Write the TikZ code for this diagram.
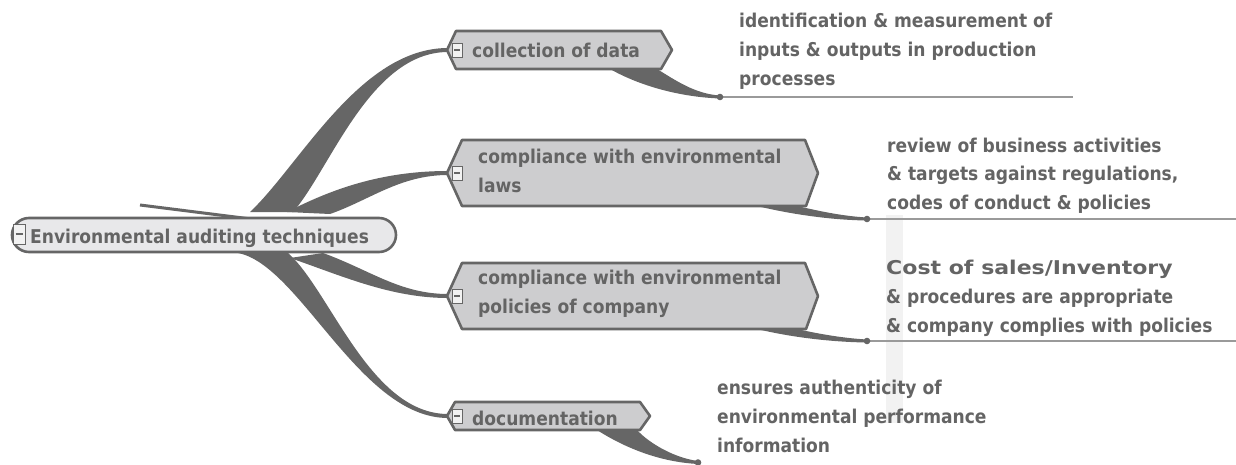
\documentclass[tikz,border=0pt]{standalone}
\usepackage{fontspec}
\newfontfamily\cond{DejaVu Sans Condensed}
\newfontfamily\wide{DejaVu Sans}
\definecolor{dk}{HTML}{666666}
\definecolor{txtc}{HTML}{646464}
\definecolor{hexfill}{HTML}{CDCDCF}
\definecolor{capfill}{HTML}{E8E8EA}
\definecolor{band}{HTML}{F2F2F2}
\definecolor{leaf}{HTML}{9A9A9A}
\begin{document}
\begin{tikzpicture}[x=1pt,y=-1pt,
  txt/.style={font=\cond\bfseries\fontsize{19}{29}\selectfont, text=txtc, inner sep=0pt, anchor=base west, align=left},
  hexbox/.style={draw=dk, fill=hexfill, line width=2.6pt, line join=round},
  capbox/.style={draw=dk, fill=capfill, line width=2.6pt, rounded corners=17pt},
  minusbox/.style={draw=dk, fill=white!95!black, line width=0.9pt},
  twig/.style={fill=dk},
  leafline/.style={draw=leaf, line width=1.4pt},
  dot/.style={fill=dk}]
\useasboundingbox (0,0) rectangle (1236,465);
% faint vertical band
\fill[band] (886,215) rectangle (903,423);

% main tapered branches
\fill[twig] (250,212) .. controls (300,165) and (360,48) .. (448,48) -- (448,52) .. controls (370,52) and (330,170) .. (293,212) -- cycle;
\fill[twig] (287,212) .. controls (330,190) and (380,171) .. (448,171) -- (448,175) .. controls (400,175) and (370,200) .. (330,214) -- cycle;
\fill[twig] (323,253) .. controls (370,270) and (400,294) .. (448,294) -- (448,298) .. controls (390,298) and (340,275) .. (290,258) -- cycle;
\fill[twig] (288,253) .. controls (330,290) and (370,414) .. (448,414) -- (448,418) .. controls (360,418) and (300,265) .. (238,253) -- cycle;

% stray stroke
\draw[dk, line width=3pt] (140,205) -- (267,221);

% central node
\draw[capbox] (12,218) rectangle (396,252);
\draw[minusbox] (13,224) rectangle (25,244);
\draw[dk, line width=1.2pt] (15.5,234) -- (22.5,234);
\node[txt] (root) at (30,243) {Environmental auditing techniques};

% sub twigs
\fill[twig] (610,69) .. controls (640,86) and (680,97) .. (720,98.5) -- (720,95.5) .. controls (695,94) and (675,80) .. (657,69) -- cycle;
\fill[twig] (757,206) .. controls (790,214) and (830,220) .. (867,220.5) -- (867,217.5) .. controls (840,216) and (815,210) .. (797,206) -- cycle;
\fill[twig] (757,329) .. controls (790,337) and (830,342) .. (867,342.5) -- (867,339.5) .. controls (840,338) and (815,333) .. (797,329) -- cycle;
\fill[twig] (597,430) .. controls (625,448) and (660,462) .. (698,464) -- (698,461) .. controls (675,458) and (650,444) .. (637,430) -- cycle;

% branch boxes
\draw[hexbox] (447,50) -- (456,31) -- (661,31) -- (672,50) -- (661,69) -- (456,69) -- cycle;
\draw[hexbox] (447,173) -- (462,140) -- (805,140) -- (818,173) -- (806,206) -- (462,206) -- cycle;
\draw[hexbox] (447,296) -- (462,263) -- (805,263) -- (818,296) -- (806,329) -- (462,329) -- cycle;
\draw[hexbox] (447,416) -- (455,402) -- (640,402) -- (650,416) -- (640,430) -- (455,430) -- cycle;

% minus boxes
\foreach \yy in {43,166,289,409}{
  \draw[minusbox] (452,\yy) rectangle (462,\yy+14);
  \draw[dk, line width=1.1pt] (454,\yy+7) -- (460,\yy+7);
}

% branch texts (anchor = baseline of last line)
\node[txt] (b1) at (472,58) {collection of data};
\node[txt] (b2) at (478,193) {compliance with environmental\\laws};
\node[txt] (b3) at (478,313) {compliance with environmental\\policies of company};
\node[txt] (b4) at (472,425) {documentation};

% leaf lines and dots
\coordinate (d1) at (720,97);
\coordinate (d2) at (867,219);
\coordinate (d3) at (867,341);
\coordinate (d4) at (698,462.5);
\coordinate (e1) at (1073,97);
\coordinate (e2) at (1236,219);
\coordinate (e3) at (1236,341);
\draw[leafline] (d1) -- (e1);
\draw[leafline] (d2) -- (e2);
\draw[leafline] (d3) -- (e3);
\foreach \d in {d1,d2,d3,d4}{ \fill[dot] (\d) circle (3.3pt); }

% leaf texts (anchor = baseline of last line)
\node[txt] (l1) at (739,86) {identification \& measurement of\\inputs \& outputs in production\\processes};
\node[txt] (l2) at (887,210) {review of business activities\\\& targets against regulations,\\codes of conduct \& policies};
\node[txt] (l3) at (886,332) {{\wide\bfseries\scalebox{1.16}[1]{Cost of sales/Inventory}}\\\& procedures are appropriate\\\& company complies with policies};
\node[txt] (l4) at (717,452) {ensures authenticity of\\environmental performance\\information};
\end{tikzpicture}
\end{document}
